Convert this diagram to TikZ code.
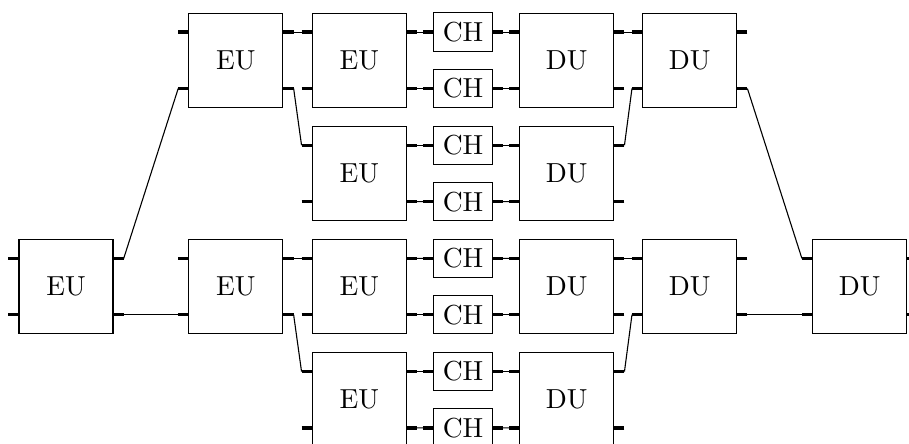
\documentclass[tikz,border=0pt]{standalone}
\usepackage{amssymb}
\usepackage{tikz}
\usetikzlibrary{shapes,arrows,positioning,calc}

% ports of a unit box: stub ends two on each side
\newcommand{\unitports}[1]{
	\coordinate (#1-l1) at ($(#1.west)+(-0.13,0.36)$);
	\coordinate (#1-l2) at ($(#1.west)+(-0.13,-0.36)$);
	\coordinate (#1-r1) at ($(#1.east)+(0.13,0.36)$);
	\coordinate (#1-r2) at ($(#1.east)+(0.13,-0.36)$);
	\draw [Port] (#1-l1) -- ($(#1.west)+(0,0.36)$);
	\draw [Port] (#1-l2) -- ($(#1.west)+(0,-0.36)$);
	\draw [Port] (#1-r1) -- ($(#1.east)+(0,0.36)$);
	\draw [Port] (#1-r2) -- ($(#1.east)+(0,-0.36)$);
}
% ports of a channel box: one on each side
\newcommand{\chanports}[1]{
	\coordinate (#1-l) at ($(#1.west)+(-0.13,0)$);
	\coordinate (#1-r) at ($(#1.east)+(0.13,0)$);
	\draw [Port] (#1-l) -- (#1.west);
	\draw [Port] (#1-r) -- (#1.east);
}

\begin{document}
\begin{tikzpicture}
			\tikzstyle{Unit}	= [rectangle, draw, fill=white, minimum size=1.2cm, inner sep=0pt]
			\tikzstyle{Chan}	= [rectangle, draw, fill=white]
			\tikzstyle{Port}	= [very thick]
			\tikzstyle{Wire}	= [black]
			
			\useasboundingbox (-0.843, -4.900) rectangle (10.766, 0.770);
			
			% encoders
			\node (e1) at (0, -2.89) [Unit] {EU};
			\node (e2) at (2.17, 0) [Unit] {EU};
			\node (e3) at (2.17, -2.89) [Unit] {EU};
			\node (e4) at (3.745, 0) [Unit] {EU};
			\node (e5) at (3.745, -1.445) [Unit] {EU};
			\node (e6) at (3.745, -2.89) [Unit] {EU};
			\node (e7) at (3.745, -4.335) [Unit] {EU};
			
			% channels
			\node (c1) at (5.07, 0.36) [Chan] {CH};
			\node (c2) at (5.07, -0.36) [Chan] {CH};
			\node (c3) at (5.07, -1.085) [Chan] {CH};
			\node (c4) at (5.07, -1.805) [Chan] {CH};
			\node (c5) at (5.07, -2.53) [Chan] {CH};
			\node (c6) at (5.07, -3.25) [Chan] {CH};
			\node (c7) at (5.07, -3.975) [Chan] {CH};
			\node (c8) at (5.07, -4.695) [Chan] {CH};
			
			% decoders
			\node (d1) at (6.395, 0) [Unit] {DU};
			\node (d2) at (6.395, -1.445) [Unit] {DU};
			\node (d3) at (6.395, -2.89) [Unit] {DU};
			\node (d4) at (6.395, -4.335) [Unit] {DU};
			\node (d5) at (7.965, 0) [Unit] {DU};
			\node (d6) at (7.965, -2.89) [Unit] {DU};
			\node (d7) at (10.135, -2.89) [Unit] {DU};
			
			\foreach \u in {e1,e2,e3,e4,e5,e6,e7,d1,d2,d3,d4,d5,d6,d7} {\unitports{\u}}
			\foreach \c in {c1,c2,c3,c4,c5,c6,c7,c8} {\chanports{\c}}
			
			\draw [-] (e1-r1) to (e2-l2) [Wire];
			\draw [-] (e1-r2) to (e3-l2) [Wire];
			\draw [-] (e2-r1) to (e4-l1) [Wire];
			\draw [-] (e2-r2) to (e5-l1) [Wire];
			\draw [-] (e3-r1) to (e6-l1) [Wire];
			\draw [-] (e3-r2) to (e7-l1) [Wire];
			
			\draw [-] (e4-r1) to (c1-l) [Wire];
			\draw [-] (e4-r2) to (c2-l) [Wire];
			\draw [-] (e5-r1) to (c3-l) [Wire];
			\draw [-] (e5-r2) to (c4-l) [Wire];
			\draw [-] (e6-r1) to (c5-l) [Wire];
			\draw [-] (e6-r2) to (c6-l) [Wire];
			\draw [-] (e7-r1) to (c7-l) [Wire];
			\draw [-] (e7-r2) to (c8-l) [Wire];
			
			\draw [-] (c1-r) to (d1-l1) [Wire];
			\draw [-] (c2-r) to (d1-l2) [Wire];
			\draw [-] (c3-r) to (d2-l1) [Wire];
			\draw [-] (c4-r) to (d2-l2) [Wire];
			\draw [-] (c5-r) to (d3-l1) [Wire];
			\draw [-] (c6-r) to (d3-l2) [Wire];
			\draw [-] (c7-r) to (d4-l1) [Wire];
			\draw [-] (c8-r) to (d4-l2) [Wire];
			
			\draw [-] (d1-r1) to (d5-l1) [Wire];
			\draw [-] (d2-r1) to (d5-l2) [Wire];
			\draw [-] (d3-r1) to (d6-l1) [Wire];
			\draw [-] (d4-r1) to (d6-l2) [Wire];
			\draw [-] (d5-r2) to (d7-l1) [Wire];
			\draw [-] (d6-r2) to (d7-l2) [Wire];
		\end{tikzpicture}
\end{document}
